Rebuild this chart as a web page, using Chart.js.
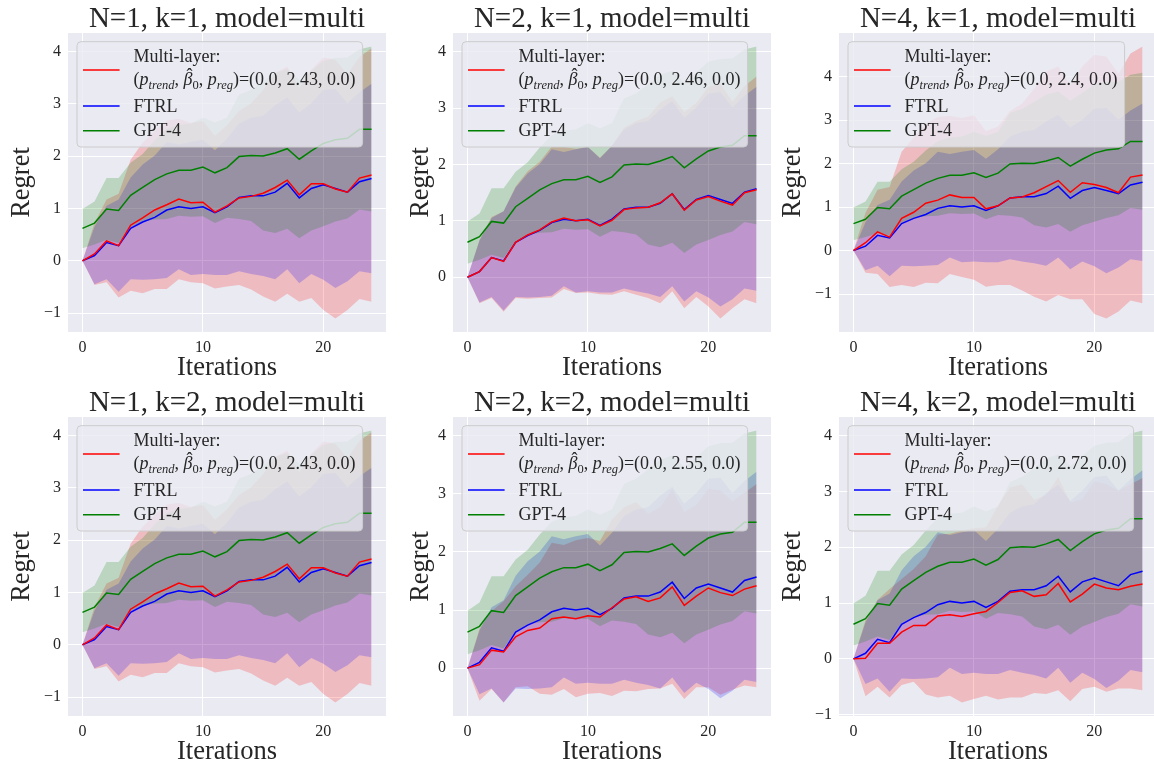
<!DOCTYPE html>
<html><head><meta charset="utf-8">
<script src="https://cdn.jsdelivr.net/npm/chart.js@4.4.1/dist/chart.umd.min.js"></script>
<style>
html,body{margin:0;padding:0;background:#fff;width:1154px;height:767px;overflow:hidden;}
#wrap{position:relative;width:1154px;height:767px;overflow:hidden;}
canvas{position:absolute;}
svg{position:absolute;left:0;top:0;}
text{font-family:'Liberation Serif','Times New Roman',serif;fill:#262626;}
</style></head><body><div id="wrap"></div>
<script>
// ---------------- data ----------------
const iterations = [0,1,2,3,4,5,6,7,8,9,10,11,12,13,14,15,16,17,18,19,20,21,22,23,24];
const xTickValues = [0, 10, 20];
const yTickValues = [-1, 0, 1, 2, 3, 4];
const panelN = [1, 2, 4, 1, 2, 4];
const panelK = [1, 1, 1, 2, 2, 2];
const betaLabels = ['2.43', '2.46', '2.4', '2.43', '2.55', '2.72'];
const seriesNames = ['Multi-layer:', 'FTRL', 'GPT-4'];

const gptMean  = [0.62,0.72,0.99,0.96,1.25,1.40,1.55,1.66,1.73,1.73,1.79,1.68,1.78,1.99,2.01,2.00,2.06,2.14,1.94,2.10,2.24,2.31,2.34,2.51,2.51];
const gptLower = [0.24,0.31,0.40,0.34,0.64,0.75,0.79,0.80,0.86,0.84,0.85,0.72,0.82,0.80,0.76,0.58,0.53,0.61,0.43,0.58,0.66,0.75,0.81,0.98,0.94];
const gptUpper = [0.99,1.13,1.58,1.58,1.87,2.04,2.30,2.52,2.60,2.62,2.73,2.64,2.73,3.17,3.26,3.42,3.59,3.66,3.45,3.63,3.82,3.87,3.88,4.04,4.09];

const ftrlMean  = [0,0.10,0.35,0.29,0.62,0.74,0.83,0.97,1.03,1.00,1.03,0.92,1.03,1.21,1.24,1.24,1.31,1.48,1.20,1.38,1.45,1.38,1.31,1.51,1.57];
const ftrlLower = [0,-0.45,-0.35,-0.59,-0.35,-0.36,-0.35,-0.33,-0.16,-0.27,-0.25,-0.27,-0.27,-0.20,-0.25,-0.29,-0.35,-0.16,-0.43,-0.25,-0.36,-0.52,-0.39,-0.20,-0.24];
const ftrlUpper = [0,0.65,1.05,1.17,1.59,1.84,2.01,2.27,2.22,2.27,2.31,2.11,2.33,2.62,2.73,2.77,2.97,3.12,2.83,3.01,3.26,3.28,3.01,3.22,3.38];

const multiMeanN1K1  = [0,0.13,0.38,0.29,0.68,0.82,0.97,1.07,1.18,1.11,1.12,0.93,1.05,1.20,1.23,1.29,1.40,1.54,1.26,1.47,1.47,1.37,1.31,1.58,1.64];
const multiLowerN1K1 = [0,-0.46,-0.41,-0.70,-0.57,-0.62,-0.54,-0.54,-0.35,-0.41,-0.43,-0.53,-0.49,-0.46,-0.55,-0.68,-0.78,-0.63,-0.78,-0.71,-0.94,-1.10,-0.94,-0.73,-0.78];
const multiUpperN1K1 = [0,0.72,1.17,1.28,1.93,2.26,2.48,2.68,2.71,2.63,2.67,2.39,2.59,2.86,3.01,3.26,3.58,3.71,3.30,3.65,3.88,3.84,3.56,3.89,4.06];

const multiMeanN2K1  = [0,0.10,0.35,0.28,0.62,0.75,0.84,0.98,1.05,1.00,1.02,0.91,1.01,1.20,1.23,1.24,1.32,1.48,1.19,1.37,1.43,1.35,1.28,1.50,1.55];
const multiLowerN2K1 = [0,-0.46,-0.37,-0.61,-0.37,-0.38,-0.37,-0.36,-0.21,-0.28,-0.27,-0.30,-0.31,-0.25,-0.31,-0.37,-0.46,-0.25,-0.55,-0.35,-0.52,-0.73,-0.55,-0.39,-0.46];
const multiUpperN2K1 = [0,0.66,1.07,1.17,1.61,1.88,2.05,2.32,2.31,2.28,2.31,2.12,2.33,2.65,2.77,2.85,3.10,3.21,2.93,3.09,3.38,3.43,3.11,3.39,3.56];

const multiMeanN4K1  = [0,0.18,0.43,0.31,0.74,0.88,1.09,1.16,1.28,1.22,1.22,0.96,1.03,1.21,1.23,1.33,1.47,1.61,1.34,1.56,1.52,1.45,1.33,1.69,1.74];
const multiLowerN4K1 = [0,-0.51,-0.54,-0.84,-0.79,-0.84,-0.74,-0.75,-0.54,-0.61,-0.67,-0.83,-0.79,-0.79,-0.92,-1.06,-1.17,-1.02,-1.12,-1.12,-1.46,-1.56,-1.40,-1.15,-1.21];
const multiUpperN4K1 = [0,0.87,1.40,1.46,2.27,2.60,2.92,3.07,3.10,3.05,3.11,2.75,2.85,3.21,3.38,3.72,4.11,4.24,3.80,4.24,4.50,4.46,4.06,4.53,4.69];

const multiMeanN1K2  = [0,0.13,0.38,0.29,0.68,0.82,0.97,1.07,1.18,1.11,1.12,0.93,1.05,1.20,1.23,1.29,1.40,1.54,1.26,1.47,1.47,1.37,1.31,1.58,1.64];
const multiLowerN1K2 = [0,-0.46,-0.41,-0.70,-0.57,-0.62,-0.54,-0.54,-0.35,-0.41,-0.43,-0.53,-0.49,-0.46,-0.55,-0.68,-0.78,-0.63,-0.78,-0.71,-0.94,-1.10,-0.94,-0.73,-0.78];
const multiUpperN1K2 = [0,0.72,1.17,1.28,1.93,2.26,2.48,2.68,2.71,2.63,2.67,2.39,2.59,2.86,3.01,3.26,3.58,3.71,3.30,3.65,3.88,3.84,3.56,3.89,4.06];

const multiMeanN2K2  = [0,0.06,0.31,0.28,0.54,0.65,0.69,0.85,0.88,0.85,0.90,0.88,1.04,1.19,1.23,1.15,1.21,1.40,1.08,1.24,1.38,1.30,1.25,1.36,1.42];
const multiLowerN2K2 = [0,-0.56,-0.36,-0.59,-0.33,-0.31,-0.44,-0.46,-0.36,-0.50,-0.44,-0.43,-0.48,-0.39,-0.40,-0.36,-0.35,-0.27,-0.53,-0.33,-0.33,-0.46,-0.37,-0.30,-0.33];
const multiUpperN2K2 = [0,0.68,0.98,1.15,1.41,1.61,1.82,2.16,2.12,2.20,2.24,2.19,2.56,2.77,2.86,2.66,2.77,3.07,2.69,2.81,3.09,3.06,2.87,3.02,3.17];

const multiMeanN4K2  = [0,0.01,0.28,0.28,0.48,0.60,0.60,0.77,0.79,0.76,0.81,0.85,1.01,1.19,1.22,1.12,1.15,1.35,1.02,1.16,1.34,1.27,1.24,1.30,1.34];
const multiLowerN4K2 = [0,-0.67,-0.50,-0.69,-0.47,-0.41,-0.64,-0.69,-0.66,-0.78,-0.72,-0.66,-0.73,-0.69,-0.69,-0.61,-0.63,-0.56,-0.76,-0.54,-0.50,-0.59,-0.53,-0.53,-0.56];
const multiUpperN4K2 = [0,0.69,1.06,1.25,1.43,1.61,1.84,2.23,2.24,2.30,2.34,2.36,2.75,3.07,3.13,2.85,2.93,3.26,2.80,2.86,3.18,3.13,3.01,3.13,3.24];

const multiMeans  = [multiMeanN1K1, multiMeanN2K1, multiMeanN4K1, multiMeanN1K2, multiMeanN2K2, multiMeanN4K2];
const multiLowers = [multiLowerN1K1, multiLowerN2K1, multiLowerN4K1, multiLowerN1K2, multiLowerN2K2, multiLowerN4K2];
const multiUppers = [multiUpperN1K1, multiUpperN2K1, multiUpperN4K1, multiUpperN1K2, multiUpperN2K2, multiUpperN4K2];

// ---------------- layout / style ----------------
const COLS = [68, 453, 839], ROWS = [33, 417], PW = 318, PH = 299;
const AXW = 70, AXH = 40, PADT = 2, PADR = 2;
const YLABEL_OFF = [38.7, 25.3, 38.7, 38.7, 25.3, 38.7];
const FONT = "'Liberation Serif','Times New Roman',serif";
const TXT = '#262626';
const COLORS = {multi: '#ff0000', ftrl: '#0000ff', gpt: '#008000'};
const FILLS = {multi: 'rgba(255,0,0,0.2)', ftrl: 'rgba(0,0,255,0.2)', gpt: 'rgba(0,128,0,0.2)'};
const LEG_FS = 18, SUB_FS = 12.5, SUB_DY = 3.8;

const bgPlugin = {
  id: 'axesBg',
  beforeDraw(chart) {
    const a = chart.chartArea, ctx = chart.ctx;
    ctx.save(); ctx.fillStyle = '#EAEAF2';
    ctx.fillRect(a.left, a.top, a.right - a.left, a.bottom - a.top);
    ctx.restore();
  }
};
const fmt = v => (v < 0 ? '\u2212' + Math.abs(v) : String(v));
const pts = arr => arr.map((v, i) => ({x: iterations[i], y: v}));

const wrap = document.getElementById('wrap');
const NS = 'http://www.w3.org/2000/svg';
const svg = document.createElementNS(NS, 'svg');
svg.setAttribute('width', 1154); svg.setAttribute('height', 767);
function el(tag, attrs, parent) {
  const e = document.createElementNS(NS, tag);
  for (const k in attrs) e.setAttribute(k, attrs[k]);
  (parent || svg).appendChild(e); return e;
}

const xSpan = iterations[iterations.length - 1] - iterations[0];
const xMin = iterations[0] - 0.05 * xSpan, xMax = iterations[iterations.length - 1] + 0.05 * xSpan;
const legends = [];

for (let i = 0; i < 6; i++) {
  const L = COLS[i % 3], T = ROWS[Math.floor(i / 3)];
  const mm = multiMeans[i], ml = multiLowers[i], mu = multiUppers[i];
  const all = [].concat(ml, mu, mm, ftrlLower, ftrlUpper, gptLower, gptUpper);
  const lo = Math.min(...all), hi = Math.max(...all), pad = 0.05 * (hi - lo);
  const yMin = lo - pad, yMax = hi + pad;

  const cv = document.createElement('canvas');
  cv.width = AXW + PW + PADR; cv.height = PADT + PH + AXH;
  cv.style.left = (L - AXW) + 'px'; cv.style.top = (T - PADT) + 'px';
  wrap.appendChild(cv);

  // higher order is drawn first: red band, then blue, then green on top
  const band = (lower, upper, fillCol, ord) => [
    {data: pts(lower), borderWidth: 0, borderColor: 'rgba(0,0,0,0)', pointRadius: 0, fill: false, order: ord},
    {data: pts(upper), borderWidth: 0, borderColor: 'rgba(0,0,0,0)', backgroundColor: fillCol, pointRadius: 0, fill: '-1', order: ord}
  ];
  const line = (mean, col) => ({data: pts(mean), borderColor: col, borderWidth: 1.5, pointRadius: 0, fill: false, order: 0});

  const tickFont = {family: FONT, size: 16};
  new Chart(cv, {
    type: 'line',
    data: {datasets: [
      ...band(ml, mu, FILLS.multi, 3),
      ...band(ftrlLower, ftrlUpper, FILLS.ftrl, 2),
      ...band(gptLower, gptUpper, FILLS.gpt, 1),
      line(mm, COLORS.multi), line(ftrlMean, COLORS.ftrl), line(gptMean, COLORS.gpt)
    ]},
    options: {
      responsive: false, animation: false, devicePixelRatio: 1,
      layout: {padding: {left: 0, top: PADT, right: PADR, bottom: 0}},
      elements: {line: {tension: 0}},
      plugins: {legend: {display: false}, title: {display: false}, tooltip: {enabled: false}},
      scales: {
        x: {type: 'linear', min: xMin, max: xMax,
            grid: {color: '#ffffff', lineWidth: 1, drawTicks: false}, border: {display: false},
            ticks: {autoSkip: false, maxRotation: 0, padding: 6, color: TXT, font: tickFont, callback: fmt},
            afterBuildTicks: s => { s.ticks = xTickValues.map(v => ({value: v})); },
            afterFit: s => { s.height = AXH; s.paddingLeft = 0; s.paddingRight = 0; s.paddingTop = 0; s.paddingBottom = 0; }},
        y: {type: 'linear', min: yMin, max: yMax,
            grid: {color: '#ffffff', lineWidth: 1, drawTicks: false}, border: {display: false},
            ticks: {autoSkip: false, padding: 7, color: TXT, font: tickFont, callback: fmt},
            afterBuildTicks: s => { s.ticks = yTickValues.filter(v => v >= yMin && v <= yMax).map(v => ({value: v})); },
            afterFit: s => { s.width = AXW; s.paddingLeft = 0; s.paddingRight = 0; s.paddingTop = 0; s.paddingBottom = 0; }}
      }
    },
    plugins: [bgPlugin]
  });

  // titles and axis labels
  const cx = L + PW / 2;
  el('text', {x: cx, y: T - 6.3, 'text-anchor': 'middle', 'font-size': 29}).textContent =
    'N=' + panelN[i] + ', k=' + panelK[i] + ', model=multi';
  el('text', {x: cx, y: T + PH + 43, 'text-anchor': 'middle', 'font-size': 26.5}).textContent = 'Iterations';
  const yx = L - YLABEL_OFF[i], yy = T + PH / 2;
  el('text', {x: yx, y: yy, 'text-anchor': 'middle', 'font-size': 26.5, transform: `rotate(-90 ${yx} ${yy})`}).textContent = 'Regret';

  // legend
  const bx = L + 9, by = T + 8.7, bh = 105.3;
  const g = el('g', {});
  const rect = el('rect', {x: bx, y: by, width: 280, height: bh, rx: 4, ry: 4,
    fill: 'rgba(234,234,242,0.8)', stroke: '#cccccc', 'stroke-width': 1}, g);
  const hx1 = bx + 6, hx2 = bx + 42.6, tx = bx + 56.6;
  [[28.3, COLORS.multi], [64.3, COLORS.ftrl], [89, COLORS.gpt]].forEach(([dy, c]) =>
    el('line', {x1: hx1, x2: hx2, y1: by + dy, y2: by + dy, stroke: c, 'stroke-width': 1.5}, g));
  const t1 = el('text', {x: tx, y: by + 20, 'font-size': LEG_FS}, g); t1.textContent = seriesNames[0];
  const fy = by + 43.3;
  const t2 = el('text', {x: tx, y: fy, 'font-size': LEG_FS}, g);
  t2.innerHTML =
    '<tspan>(</tspan><tspan font-style="italic">p</tspan>' +
    `<tspan font-style="italic" font-size="${SUB_FS}" dy="${SUB_DY}">trend</tspan>` +
    `<tspan dy="${-SUB_DY}">, </tspan><tspan font-style="italic">\u03B2</tspan>` +
    `<tspan font-size="${SUB_FS}" dy="${SUB_DY}">0</tspan>` +
    `<tspan dy="${-SUB_DY}">, </tspan><tspan font-style="italic">p</tspan>` +
    `<tspan font-style="italic" font-size="${SUB_FS}" dy="${SUB_DY}">reg</tspan>` +
    `<tspan dy="${-SUB_DY}">)=(0.0, ` + betaLabels[i] + ', 0.0)</tspan>';
  const t3 = el('text', {x: tx, y: by + 70, 'font-size': LEG_FS}, g); t3.textContent = seriesNames[1];
  const t4 = el('text', {x: tx, y: by + 94.3, 'font-size': LEG_FS}, g); t4.textContent = seriesNames[2];
  legends.push({g, rect, texts: [t1, t2, t3, t4], tx, bx, formula: t2, fy});
}
wrap.appendChild(svg);
legends.forEach(o => {
  const w = Math.max(...o.texts.map(t => t.getComputedTextLength()));
  o.rect.setAttribute('width', o.tx + w + 7 - o.bx);
  // hat over beta: char index of beta = "(" + "p" + "trend" + ", " -> 9
  const ext = o.formula.getExtentOfChar(9);
  const hat = el('text', {x: ext.x + ext.width / 2 + 1.5, y: o.fy - 4.5, 'text-anchor': 'middle', 'font-size': LEG_FS}, o.g);
  hat.textContent = '\u02C6';
});
</script></body></html>
